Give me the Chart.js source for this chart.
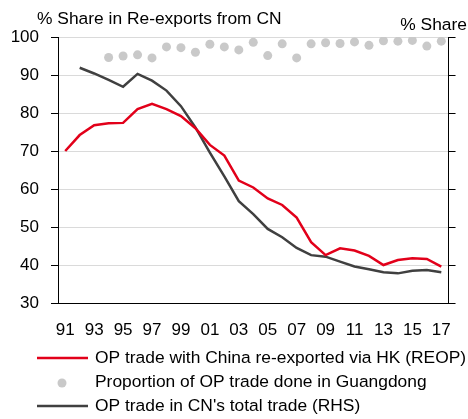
<!DOCTYPE html>
<html>
<head>
<meta charset="utf-8">
<script src="https://cdn.jsdelivr.net/npm/chart.js@4"></script>
<style>
  body { margin: 0; background: #fff; }
  #wrap { width: 468px; height: 419px; }
</style>
</head>
<body>
<div id="wrap"><canvas id="chart" width="468" height="419"></canvas></div>
<script>
var years = ['91','92','93','94','95','96','97','98','99','00','01','02','03','04','05','06','07','08','09','10','11','12','13','14','15','16','17'];

var reop = [70.0, 74.2, 76.8, 77.3, 77.4, 81.0, 82.4, 81.0, 79.2, 76.0, 71.6, 68.8, 62.2, 60.4, 57.5, 55.8, 52.5, 46.0, 42.6, 44.4, 43.8, 42.4, 40.0, 41.3, 41.8, 41.6, 39.6];

var guangdong = [null, null, null, 94.6, 95.0, 95.3, 94.5, 97.4, 97.2, 96.0, 98.1, 97.4, 96.6, 98.6, 95.1, 98.2, 94.5, 98.2, 98.5, 98.3, 98.7, 97.8, 99.0, 98.9, 99.1, 97.6, 98.9];

var totalTrade = [null, 91.9, 90.4, 88.7, 86.9, 90.3, 88.5, 85.9, 81.8, 76.2, 69.6, 63.3, 56.8, 53.4, 49.5, 47.3, 44.5, 42.6, 42.2, 40.9, 39.6, 38.9, 38.1, 37.8, 38.5, 38.7, 38.1];

var yTicks = [30, 40, 50, 60, 70, 80, 90, 100];

var seriesNames = [
  'OP trade with China re-exported via HK (REOP)',
  'Proportion of OP trade done in Guangdong',
  "OP trade in CN's total trade (RHS)"
];

var leftTitle = '% Share in Re-exports from CN';
var rightTitle = '% Share';

var red = '#e2001a';
var grey = '#c9c9c9';
var dark = '#404040';
var font = '"Liberation Sans", Arial, sans-serif';

// titles and legend drawn straight on the canvas
var extras = {
  id: 'extras',
  afterDraw: function (chart) {
    var c = chart.ctx;
    c.save();
    c.fillStyle = '#000';
    c.font = '17.4px ' + font;
    c.textBaseline = 'middle';
    c.textAlign = 'left';
    c.fillText(leftTitle, 37, 19);
    c.textAlign = 'right';
    c.fillText(rightTitle, 467, 25);

    var rows = [358, 382, 406];
    c.textAlign = 'left';
    for (var i = 0; i < seriesNames.length; i++) {
      var y = rows[i];
      var ds = chart.data.datasets[i];
      if (ds.showLine === false) {
        c.fillStyle = ds.pointBackgroundColor;
        c.beginPath();
        c.arc(62, y + 1, 4.5, 0, Math.PI * 2);
        c.fill();
      } else {
        c.strokeStyle = ds.borderColor;
        c.lineWidth = ds.borderWidth;
        c.beginPath();
        c.moveTo(37, y);
        c.lineTo(88, y);
        c.stroke();
      }
      c.fillStyle = '#000';
      c.fillText(seriesNames[i], 95, y);
    }
    c.restore();
  }
};

new Chart(document.getElementById('chart'), {
  type: 'line',
  data: {
    labels: years,
    datasets: [{
      data: reop,
      borderColor: red,
      borderWidth: 2.5,
      backgroundColor: 'transparent',
      pointRadius: 0,
      lineTension: 0,
      yAxisID: 'y'
    }, {
      data: guangdong,
      showLine: false,
      pointRadius: 4.5,
      pointBackgroundColor: grey,
      pointBorderWidth: 0,
      borderColor: grey,
      yAxisID: 'y'
    }, {
      data: totalTrade,
      borderColor: dark,
      borderWidth: 2.5,
      backgroundColor: 'transparent',
      pointRadius: 0,
      lineTension: 0,
      yAxisID: 'y2'
    }]
  },
  options: {
    responsive: false,
    animation: false,
    layout: {
      padding: { top: 37, left: 0, right: 0, bottom: 0 }
    },
    scales: {
      x: {
        offset: true,
        grid: { display: false, drawTicks: false },
        border: { color: '#000', width: 1 },
        ticks: {
          autoSkip: false,
          maxRotation: 0,
          padding: 17,
          color: '#000',
          font: { family: font, size: 17 },
          callback: function (val, i) {
            return i % 2 === 0 ? years[i] : '';
          }
        },
        afterFit: function (scale) { scale.height = 116; }
      },
      y: {
        position: 'left',
        min: 30,
        max: 100,
        afterBuildTicks: function (scale) {
          scale.ticks = yTicks.map(function (v) { return { value: v }; });
        },
        grid: { color: '#dadada', lineWidth: 1, tickLength: 7, tickColor: '#000' },
        border: { color: '#000', width: 1 },
        ticks: {
          padding: 12,
          color: '#000',
          font: { family: font, size: 17 }
        },
        afterFit: function (scale) { scale.width = 58; }
      },
      y2: {
        position: 'right',
        min: 30,
        max: 100,
        afterBuildTicks: function (scale) {
          scale.ticks = yTicks.map(function (v) { return { value: v }; });
        },
        grid: { drawOnChartArea: false, tickLength: 7, tickColor: '#000' },
        border: { color: '#000', width: 1 },
        ticks: { display: false },
        afterFit: function (scale) { scale.width = 13; }
      }
    },
    plugins: {
      legend: { display: false },
      tooltip: { enabled: false }
    }
  },
  plugins: [extras]
});
</script>
</body>
</html>
